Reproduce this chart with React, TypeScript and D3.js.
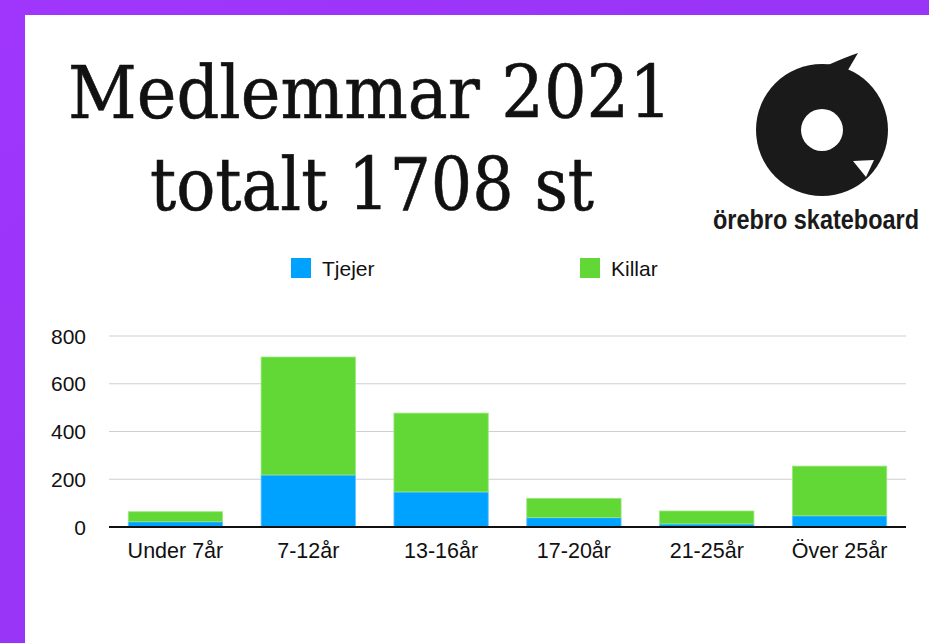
import React from "react";
import * as d3 from "d3";

const categories = ["Under 7år", "7-12år", "13-16år", "17-20år", "21-25år", "Över 25år"];
const tjejer = [22, 218, 147, 39, 13, 47];
const killar = [42, 494, 330, 81, 54, 208];
const seriesNames = ["Tjejer", "Killar"];
const yTicks = [0, 200, 400, 600, 800];

const W = 929;
const H = 643;
const colors = ["#00a2ff", "#61d836"];
const strokes = ["#5ec6ff", "#9be67e"];

export default function App() {
  const x = d3.scaleBand<string>().domain(categories).range([109, 906]).paddingInner(0.29).paddingOuter(0.145);
  const y = d3.scaleLinear().domain([0, 800]).range([527, 336]);
  const rows = categories.map((c, i) => ({ cat: c, Tjejer: tjejer[i], Killar: killar[i] }));
  const stacked = d3.stack<any>().keys(seriesNames)(rows);

  // logo geometry
  const cx = 822, cy = 130, r = 66;
  const disk = d3.path();
  disk.arc(cx, cy, r, 0, Math.PI * 2);
  const tail = "M 828 65 Q 846 57 858 53 L 848 70 Z";
  const notch = "M 874 160 L 853 161 L 866 177 Z";
  const hole = d3.path();
  hole.arc(cx, cy, 21, 0, Math.PI * 2);

  return (
    <svg width={W} height={H} style={{ position: "absolute", left: 0, top: 0 }}>
      <defs>
        <linearGradient id="bg" x1="0" y1="0" x2="1" y2="1">
          <stop offset="0" stopColor="#a036fc" />
          <stop offset="1" stopColor="#8f33ef" />
        </linearGradient>
      </defs>
      <rect x={0} y={0} width={W} height={H} fill="url(#bg)" />
      <rect x={25} y={15} width={W - 25} height={H - 15} fill="#ffffff" />

      <text x={68} y={118} fontFamily="DejaVu Serif" fontSize={72} fill="#111" stroke="#111" strokeWidth={0.6} textLength={604} lengthAdjust="spacingAndGlyphs">Medlemmar 2021</text>
      <text x={150} y={210} fontFamily="DejaVu Serif" fontSize={72} fill="#111" stroke="#111" strokeWidth={0.6} textLength={444} lengthAdjust="spacingAndGlyphs">totalt 1708 st</text>

      <g>
        <path d={disk.toString()} fill="#1a1a1a" />
        <path d={tail} fill="#1a1a1a" />
        <path d={notch} fill="#ffffff" />
        <path d={hole.toString()} fill="#ffffff" />
        <text x={713} y={229} fontFamily="Liberation Sans Narrow, Liberation Sans" fontWeight="bold" fontSize={28} fill="#1a1a1a" textLength={206} lengthAdjust="spacingAndGlyphs">örebro skateboard</text>
      </g>

      {seriesNames.map((s, i) => (
        <g key={s} transform={`translate(${i === 0 ? 291 : 580},258)`}>
          <rect x={0} y={0} width={20} height={20} fill={colors[i]} />
          <text x={31} y={18} fontFamily="Liberation Sans, Arial" fontSize={21} fill="#111">{s}</text>
        </g>
      ))}

      {yTicks.map((t) => (
        <g key={t}>
          {t > 0 && <line x1={109} x2={906} y1={y(t)} y2={y(t)} stroke="#cfcfcf" strokeWidth={1} />}
          <text x={86} y={y(t) + 7.5} textAnchor="end" fontFamily="Liberation Sans, Arial" fontSize={21} fill="#111">{t}</text>
        </g>
      ))}

      {stacked.map((layer, li) => (
        <g key={layer.key}>
          {layer.map((d, i) => (
            <rect
              key={i}
              x={x(categories[i])!}
              y={y(d[1])}
              width={x.bandwidth()}
              height={y(d[0]) - y(d[1])}
              fill={colors[li]}
              stroke={strokes[li]}
              strokeWidth={0.8}
            />
          ))}
        </g>
      ))}

      <line x1={109} x2={906} y1={527} y2={527} stroke="#111" strokeWidth={2} />

      {categories.map((c) => (
        <text key={c} x={x(c)! + x.bandwidth() / 2} y={558} textAnchor="middle" fontFamily="Liberation Sans, Arial" fontSize={21.5} fill="#111">{c}</text>
      ))}
    </svg>
  );
}
